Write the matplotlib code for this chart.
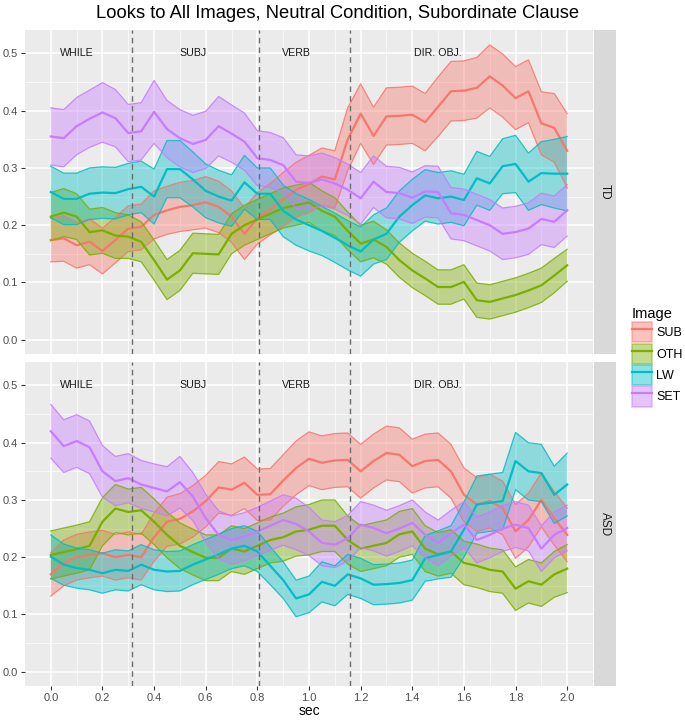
import numpy as np
import matplotlib
matplotlib.use("Agg")
import matplotlib.pyplot as plt
from matplotlib.patches import Patch
from matplotlib.lines import Line2D

plt.rcParams['font.family'] = ['Liberation Sans', 'DejaVu Sans']

# time grid (sec), one sample every 0.05 s
sec = np.linspace(0, 2, 41)

images = ["SUB", "OTH", "LW", "SET"]
colors = {"SUB": "#F8766D", "OTH": "#7CAE00", "LW": "#00BFC4", "SET": "#C77CFF"}

# ---- TD group: mean proportion of looks and half-width of ribbon
td_sub = [0.174, 0.177, 0.165, 0.171, 0.155, 0.174, 0.194, 0.197, 0.218, 0.226,
          0.232, 0.235, 0.240, 0.232, 0.215, 0.185, 0.212, 0.228, 0.245, 0.262,
          0.272, 0.285, 0.280, 0.350, 0.395, 0.356, 0.390, 0.391, 0.393, 0.380,
          0.407, 0.434, 0.435, 0.440, 0.460, 0.444, 0.422, 0.434, 0.378, 0.370, 0.330]
td_sub_hw = [0.038, 0.040, 0.040, 0.040, 0.040, 0.040, 0.040, 0.040, 0.042, 0.042,
             0.043, 0.043, 0.045, 0.045, 0.045, 0.045, 0.045, 0.045, 0.047, 0.048,
             0.050, 0.050, 0.050, 0.055, 0.052, 0.050, 0.050, 0.050, 0.050, 0.050,
             0.052, 0.052, 0.052, 0.053, 0.055, 0.055, 0.055, 0.055, 0.055, 0.060, 0.065]
td_oth = [0.215, 0.222, 0.215, 0.188, 0.191, 0.182, 0.180, 0.171, 0.139, 0.105,
          0.121, 0.151, 0.150, 0.149, 0.185, 0.200, 0.210, 0.220, 0.230, 0.235,
          0.240, 0.225, 0.215, 0.190, 0.168, 0.175, 0.162, 0.139, 0.121, 0.107,
          0.092, 0.092, 0.101, 0.069, 0.066, 0.072, 0.078, 0.086, 0.095, 0.112, 0.130]
td_oth_hw = [0.042, 0.042, 0.040, 0.040, 0.040, 0.040, 0.038, 0.035, 0.035, 0.035,
             0.035, 0.035, 0.035, 0.035, 0.035, 0.035, 0.035, 0.035, 0.035, 0.035,
             0.035, 0.035, 0.033, 0.033, 0.032, 0.032, 0.030, 0.030, 0.030, 0.030,
             0.030, 0.030, 0.030, 0.030, 0.030, 0.030, 0.030, 0.030, 0.030, 0.030, 0.028]
td_lw = [0.258, 0.246, 0.246, 0.255, 0.257, 0.256, 0.263, 0.267, 0.250, 0.298,
         0.298, 0.280, 0.260, 0.250, 0.243, 0.275, 0.255, 0.255, 0.225, 0.210,
         0.200, 0.190, 0.178, 0.165, 0.154, 0.175, 0.185, 0.215, 0.235, 0.252,
         0.247, 0.250, 0.244, 0.282, 0.273, 0.303, 0.307, 0.276, 0.291, 0.290, 0.290]
td_lw_hw = [0.045, 0.045, 0.045, 0.045, 0.045, 0.045, 0.045, 0.045, 0.048, 0.050,
            0.050, 0.048, 0.047, 0.046, 0.045, 0.047, 0.045, 0.045, 0.045, 0.045,
            0.045, 0.043, 0.043, 0.043, 0.043, 0.043, 0.045, 0.045, 0.045, 0.045,
            0.045, 0.045, 0.045, 0.047, 0.047, 0.048, 0.050, 0.050, 0.055, 0.060, 0.065]
td_set = [0.355, 0.352, 0.373, 0.386, 0.397, 0.387, 0.361, 0.364, 0.398, 0.368,
          0.352, 0.342, 0.349, 0.373, 0.360, 0.346, 0.317, 0.314, 0.305, 0.276,
          0.274, 0.280, 0.273, 0.262, 0.247, 0.276, 0.258, 0.256, 0.248, 0.259,
          0.258, 0.221, 0.218, 0.209, 0.200, 0.185, 0.188, 0.194, 0.211, 0.206, 0.226]
td_set_hw = [0.050, 0.050, 0.050, 0.050, 0.052, 0.050, 0.050, 0.050, 0.055, 0.050,
             0.050, 0.050, 0.050, 0.052, 0.050, 0.050, 0.048, 0.048, 0.048, 0.047,
             0.047, 0.046, 0.045, 0.045, 0.045, 0.045, 0.045, 0.045, 0.045, 0.045,
             0.045, 0.045, 0.045, 0.045, 0.045, 0.045, 0.045, 0.045, 0.045, 0.045, 0.045]

# ---- ASD group
asd_sub = [0.170, 0.190, 0.200, 0.204, 0.207, 0.200, 0.204, 0.200, 0.235, 0.262,
           0.267, 0.280, 0.298, 0.322, 0.318, 0.330, 0.309, 0.310, 0.334, 0.356,
           0.372, 0.365, 0.369, 0.370, 0.350, 0.368, 0.382, 0.379, 0.359, 0.368,
           0.370, 0.350, 0.309, 0.292, 0.298, 0.286, 0.245, 0.265, 0.300, 0.268, 0.239]
asd_sub_hw = [0.038, 0.040, 0.040, 0.040, 0.040, 0.040, 0.040, 0.040, 0.042, 0.043,
              0.044, 0.045, 0.045, 0.045, 0.045, 0.045, 0.045, 0.045, 0.045, 0.047,
              0.047, 0.047, 0.047, 0.047, 0.047, 0.047, 0.047, 0.047, 0.047, 0.047,
              0.047, 0.047, 0.047, 0.047, 0.047, 0.047, 0.047, 0.047, 0.047, 0.047, 0.047]
asd_oth = [0.204, 0.209, 0.214, 0.220, 0.262, 0.285, 0.279, 0.282, 0.262, 0.239,
           0.220, 0.209, 0.199, 0.199, 0.215, 0.210, 0.220, 0.230, 0.235, 0.245,
           0.248, 0.255, 0.255, 0.230, 0.215, 0.220, 0.225, 0.240, 0.245, 0.215,
           0.205, 0.210, 0.190, 0.185, 0.178, 0.175, 0.145, 0.158, 0.152, 0.170, 0.180]
asd_oth_hw = [0.042, 0.042, 0.042, 0.042, 0.042, 0.042, 0.040, 0.040, 0.040, 0.040,
              0.040, 0.040, 0.040, 0.040, 0.040, 0.040, 0.040, 0.040, 0.042, 0.043,
              0.044, 0.045, 0.045, 0.042, 0.040, 0.040, 0.040, 0.040, 0.040, 0.040,
              0.038, 0.038, 0.038, 0.038, 0.038, 0.038, 0.038, 0.038, 0.038, 0.040, 0.042]
asd_lw = [0.201, 0.187, 0.181, 0.178, 0.172, 0.178, 0.176, 0.187, 0.178, 0.175,
          0.176, 0.187, 0.196, 0.205, 0.215, 0.220, 0.210, 0.185, 0.160, 0.128,
          0.135, 0.157, 0.150, 0.170, 0.163, 0.152, 0.153, 0.155, 0.160, 0.198,
          0.204, 0.210, 0.248, 0.292, 0.295, 0.298, 0.368, 0.350, 0.347, 0.309, 0.327]
asd_lw_hw = [0.038, 0.036, 0.035, 0.035, 0.035, 0.035, 0.035, 0.035, 0.035, 0.035,
             0.035, 0.035, 0.035, 0.035, 0.035, 0.035, 0.035, 0.033, 0.032, 0.032,
             0.032, 0.035, 0.035, 0.035, 0.035, 0.035, 0.035, 0.035, 0.035, 0.040,
             0.042, 0.045, 0.048, 0.050, 0.050, 0.050, 0.050, 0.050, 0.050, 0.050, 0.055]
asd_set = [0.420, 0.394, 0.403, 0.392, 0.350, 0.333, 0.338, 0.327, 0.321, 0.315,
           0.331, 0.306, 0.268, 0.239, 0.230, 0.236, 0.245, 0.255, 0.265, 0.258,
           0.245, 0.225, 0.222, 0.233, 0.257, 0.251, 0.242, 0.250, 0.260, 0.239,
           0.225, 0.242, 0.257, 0.230, 0.239, 0.250, 0.257, 0.251, 0.215, 0.239, 0.251]
asd_set_hw = [0.047, 0.046, 0.046, 0.046, 0.045, 0.043, 0.043, 0.042, 0.042, 0.043,
              0.045, 0.042, 0.042, 0.042, 0.042, 0.042, 0.042, 0.043, 0.044, 0.045,
              0.042, 0.040, 0.040, 0.040, 0.040, 0.040, 0.040, 0.040, 0.040, 0.040,
              0.040, 0.040, 0.040, 0.040, 0.040, 0.040, 0.040, 0.040, 0.040, 0.040, 0.040]

groups = {
    "TD": {"SUB": (td_sub, td_sub_hw), "OTH": (td_oth, td_oth_hw),
           "LW": (td_lw, td_lw_hw), "SET": (td_set, td_set_hw)},
    "ASD": {"SUB": (asd_sub, asd_sub_hw), "OTH": (asd_oth, asd_oth_hw),
            "LW": (asd_lw, asd_lw_hw), "SET": (asd_set, asd_set_hw)},
}

# word region boundaries and labels
boundaries = [0.315, 0.805, 1.16]
regions = ["WHILE", "SUBJ", "VERB", "DIR. OBJ."]
region_x = [0.1, 0.55, 0.95, 1.5]

W, H = 685, 724
fig = plt.figure(figsize=(W / 100, H / 100), dpi=100)

def px(l, t, r, b):
    return [l / W, 1 - b / H, (r - l) / W, (b - t) / H]

panel_px = {"TD": (25, 30, 593, 354), "ASD": (25, 362, 593, 686)}

for gname, (l, t, r, b) in panel_px.items():
    ax = fig.add_axes(px(l, t, r, b))
    ax.set_facecolor("#EBEBEB")
    for s in ax.spines.values():
        s.set_visible(False)
    ax.set_xlim(-0.1, 2.1)
    ax.set_ylim(-0.025, 0.541)
    ax.set_xticks(np.arange(0, 2.01, 0.2))
    ax.set_xticks(np.arange(0.1, 2.0, 0.2), minor=True)
    ax.set_yticks(np.arange(0, 0.51, 0.1))
    ax.set_yticks(np.arange(0.05, 0.5, 0.1), minor=True)
    ax.grid(which="major", color="white", lw=1.1)
    ax.grid(which="minor", color="white", lw=0.5)
    ax.set_axisbelow(True)
    ax.tick_params(which="major", length=3, color="#333333", labelcolor="#4D4D4D",
                   labelsize=8, width=0.8, pad=2)
    ax.tick_params(which="minor", length=0)
    ax.yaxis.set_major_formatter(matplotlib.ticker.FormatStrFormatter("%.1f"))
    if gname == "TD":
        ax.tick_params(axis="x", labelbottom=False, length=0)
    else:
        ax.xaxis.set_major_formatter(matplotlib.ticker.FormatStrFormatter("%.1f"))
        ax.set_xlabel("sec", fontsize=10, color="black", labelpad=1)

    for img in images:
        m, hw = groups[gname][img]
        m = np.array(m)
        hw = np.array(hw)
        c = colors[img]
        ax.fill_between(sec, m - hw, m + hw, facecolor=c, alpha=0.4, edgecolor="none")
        ax.plot(sec, m + hw, color=c, lw=0.9, alpha=0.85)
        ax.plot(sec, m - hw, color=c, lw=0.9, alpha=0.85)
        ax.plot(sec, m, color=c, lw=1.6)

    for xb in boundaries:
        ax.axvline(xb, color="#6E6E6E", ls=(0, (4, 3)), lw=1.0)
    for xr, lab in zip(region_x, regions):
        ax.text(xr, 0.5, lab, ha="center", va="center", fontsize=7.7, color="#1A1A1A")

    # facet strip on the right
    sax = fig.add_axes(px(594, t, 616, b))
    sax.set_facecolor("#D9D9D9")
    sax.set_xticks([])
    sax.set_yticks([])
    for s in sax.spines.values():
        s.set_visible(False)
    sax.text(0.5, 0.5, gname, rotation=-90, ha="center", va="center",
             fontsize=8.5, color="#1A1A1A", transform=sax.transAxes)

fig.text(338 / W, 1 - 14 / H, "Looks to All Images, Neutral Condition, Subordinate Clause",
         ha="center", va="center", fontsize=13.2)

handles = [(Patch(facecolor=colors[i], edgecolor=colors[i], alpha=0.45, lw=1.2),
            Line2D([], [], color=colors[i], lw=1.6)) for i in images]
leg = fig.legend(handles, images, title="Image", loc="upper left",
                 bbox_to_anchor=(632 / W, 1 - 307 / H), frameon=False,
                 fontsize=9, title_fontsize=10.5, handlelength=1.6, handleheight=2.1,
                 handletextpad=0.35, labelspacing=0.1, borderpad=0, borderaxespad=0)
leg._legend_box.align = "left"

fig.savefig("out.png", dpi=100)
